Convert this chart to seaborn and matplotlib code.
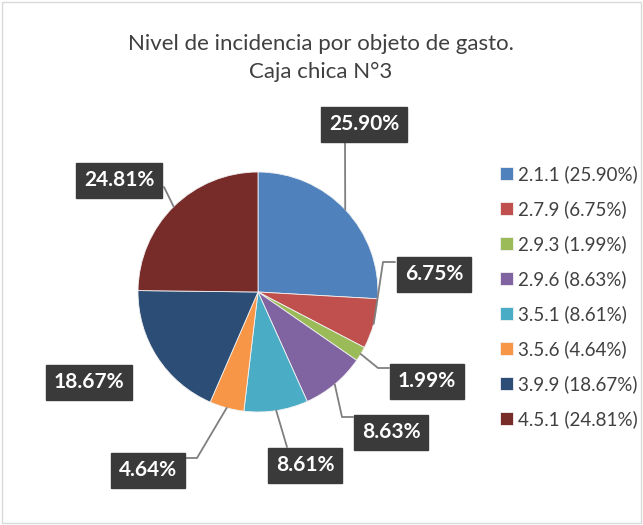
import matplotlib
matplotlib.use("Agg")
import matplotlib.pyplot as plt
import seaborn as sns
import numpy as np
from matplotlib.patches import Rectangle

sns.set_theme(style="white")
plt.rcParams['font.family'] = ['Lato', 'DejaVu Sans']

# Data
codes = ["2.1.1", "2.7.9", "2.9.3", "2.9.6", "3.5.1", "3.5.6", "3.9.9", "4.5.1"]
values = [25.90, 6.75, 1.99, 8.63, 8.61, 4.64, 18.67, 24.81]
colors = ["#4F81BD", "#C0504D", "#9BBB59", "#8064A2", "#4BACC6", "#F79646", "#2C4D75", "#772C2A"]
title = "Nivel de incidencia por objeto de gasto.\nCaja chica N°3"

W, H = 643, 525
fig = plt.figure(figsize=(W / 100, H / 100), dpi=100)
ax = fig.add_axes([0, 0, 1, 1])
ax.set_xlim(0, W)
ax.set_ylim(0, H)
ax.axis("off")

cx, cy, R = 258, H - 292, 120
wedges, _ = ax.pie(values, colors=colors, startangle=90, counterclock=False,
                   center=(cx, cy), radius=R, frame=True,
                   wedgeprops=dict(edgecolor="#F2F2F2", linewidth=0.6))
ax.set_xlim(0, W)
ax.set_ylim(0, H)
ax.axis("off")

# label box centers (pixels, y from top) and elbow points for leader lines
label_pos = [(364, 124), (434, 274), (427, 381), (391, 432), (305, 465), (148, 470), (89, 382), (119, 180)]
elbows = [
    [(345, 143)],
    [(383, 262), (395, 262)],
    [(378, 368), (389, 368)],
    [(342, 417), (353, 417)],
    [(287, 447)],
    [(197, 458), (186, 458)],
    None,
    [(164, 187)],
]

for w, v, (lx, ly), el in zip(wedges, values, label_pos, elbows):
    mid = np.deg2rad((w.theta1 + w.theta2) / 2)
    px, py = cx + R * np.cos(mid), cy + R * np.sin(mid)
    if el is not None:
        xs = [px] + [e[0] for e in el]
        ys = [py] + [H - e[1] for e in el]
        ax.plot(xs, ys, color="#7F7F7F", lw=1.3, zorder=3)
    ax.text(lx, H - ly, f"{v:.2f}%", ha="center", va="center", color="white",
            fontsize=15, fontweight="bold", zorder=5,
            bbox=dict(boxstyle="square,pad=0.36", facecolor="#3A3A3A", edgecolor="#3A3A3A"))

fig.text(321 / W, 1 - 58 / H, title, ha="center", va="center", fontsize=16,
         color="#404040", linespacing=1.5)

leg = fig.legend(wedges, [f"{c} ({v:.2f}%)" for c, v in zip(codes, values)],
                 loc="upper left", bbox_to_anchor=(492 / W, 1 - 158 / H), frameon=False,
                 fontsize=13.5, handlelength=0.7, handleheight=0.7, handletextpad=0.3,
                 labelspacing=0.91, borderaxespad=0)
for t in leg.get_texts():
    t.set_color("#404040")

fig.patches.append(Rectangle((2 / W, 2 / H), (W - 4) / W, (H - 4) / H, transform=fig.transFigure,
                             fill=False, edgecolor="#D9D9D9", lw=1))

fig.savefig("out.png", dpi=100, facecolor="white")
